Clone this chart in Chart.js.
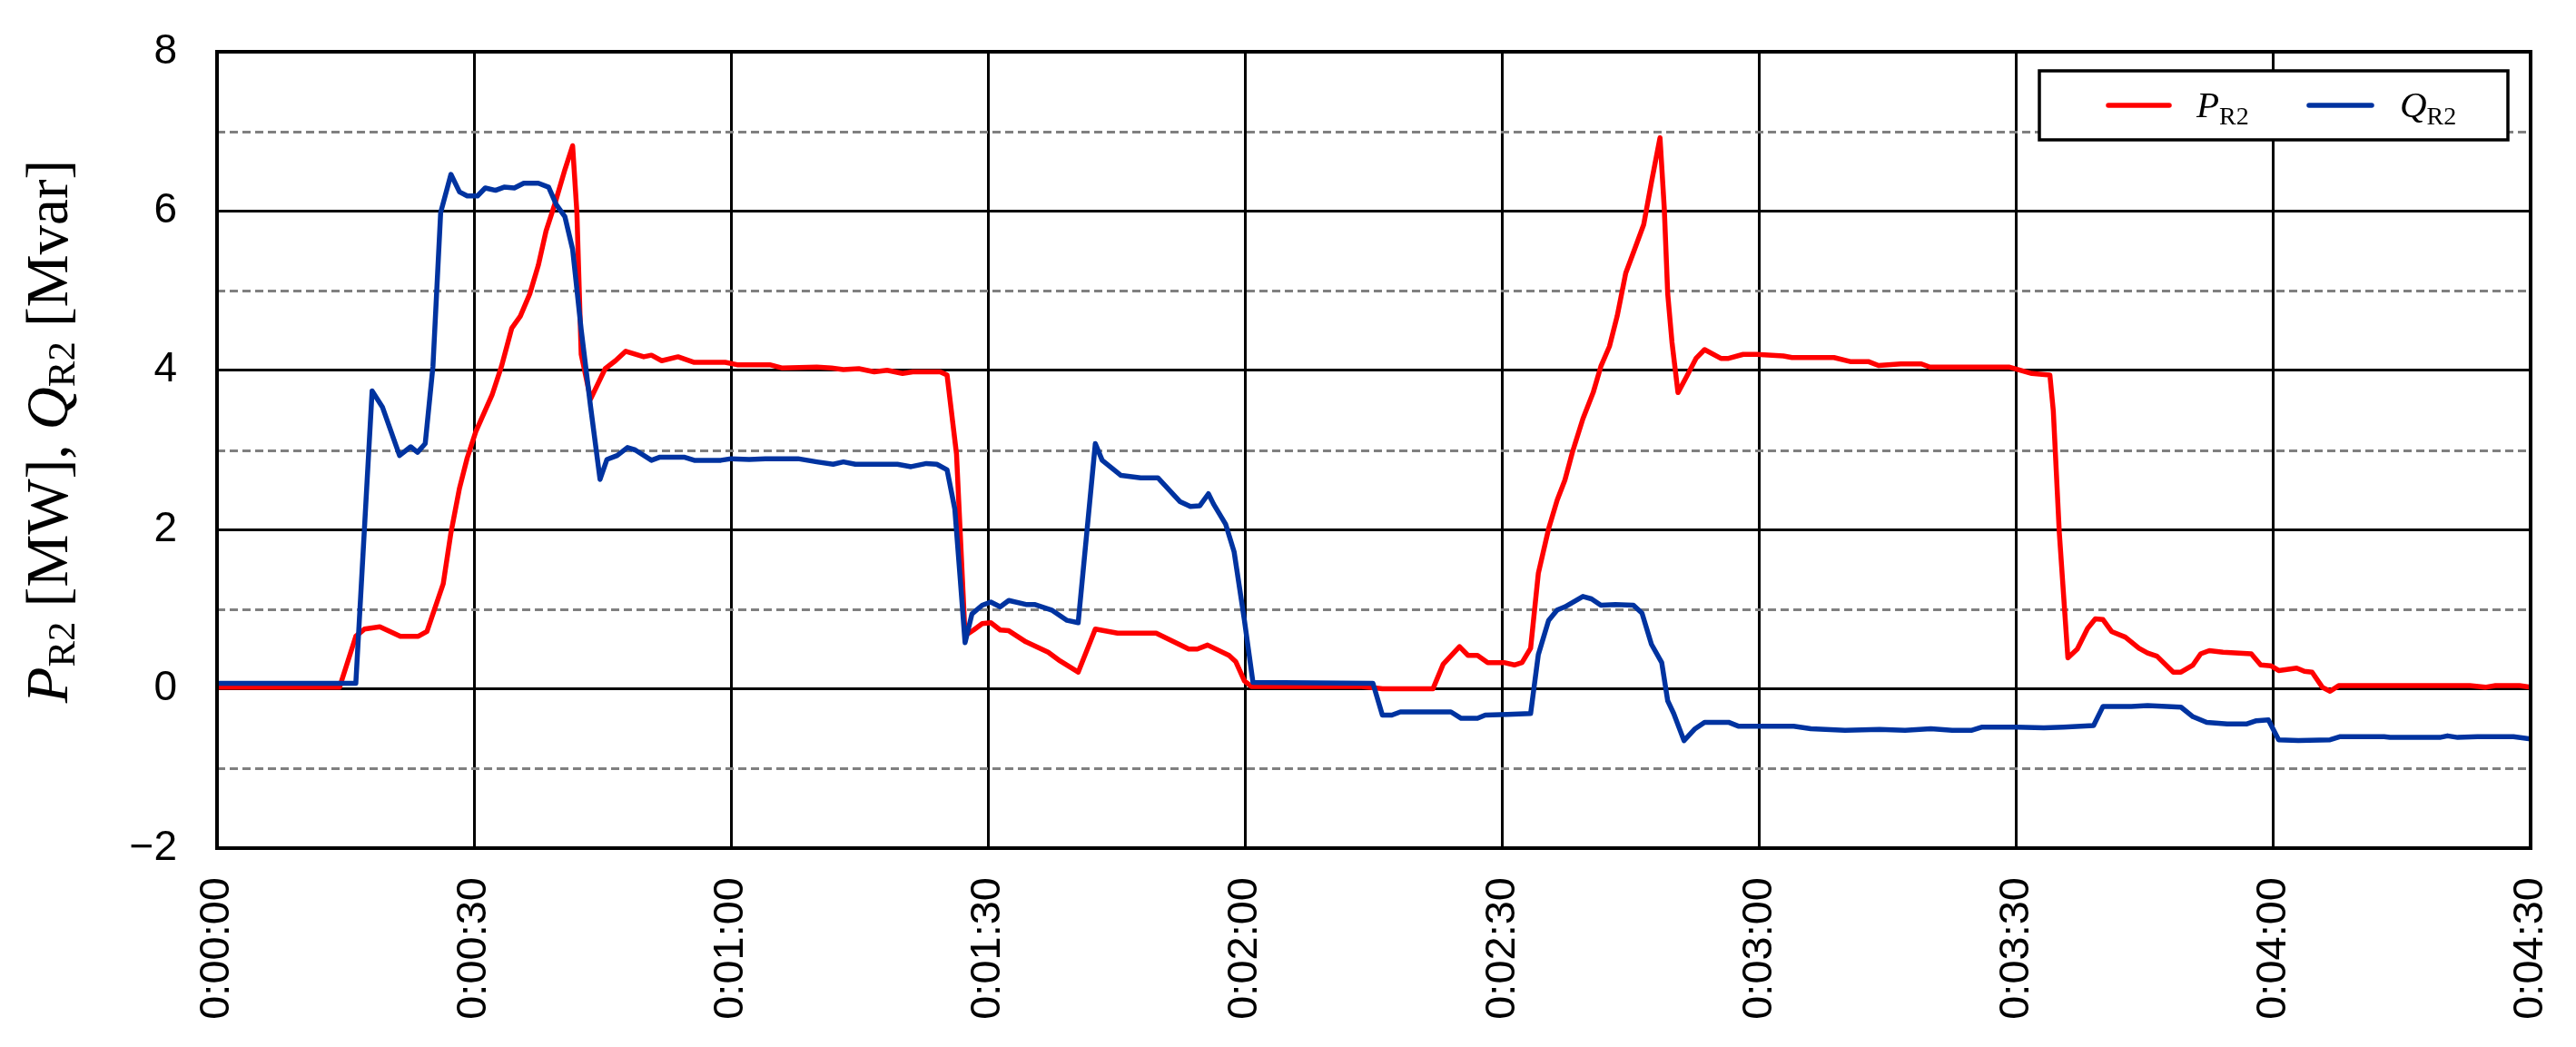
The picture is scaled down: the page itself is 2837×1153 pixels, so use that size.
<!DOCTYPE html>
<html><head><meta charset="utf-8">
<script src="https://cdn.jsdelivr.net/npm/chart.js@4/dist/chart.umd.min.js"></script>
<style>html,body{margin:0;padding:0;background:#fff;}#wrap{width:2837px;height:1153px;}</style>
</head><body><div id="wrap"><canvas id="c" width="2837" height="1153"></canvas></div>
<script>
// ---- data (seconds, MW / Mvar) ----
const pTime = [0,14.3,16.2,17.2,19.0,21.4,23.5,24.5,26.4,27.3,28.3,29.2,30.2,32.1,33.2,34.4,35.4,36.5,37.5,38.4,39.4,40.6,41.5,42.0,42.5,43.6,45.3,46.5,47.7,49.8,50.7,51.9,53.8,55.7,59.3,60.7,64.5,65.9,70.0,71.7,73.1,74.9,76.7,78.2,80.0,81.2,84.4,85.2,86.3,87.3,88.3,89.3,90.3,91.4,92.4,94.4,97.0,98.4,100.5,102.5,105.1,109.6,113.4,114.4,115.6,118.1,118.9,119.9,120.7,133.6,136.0,141.9,143.1,145.0,146.0,147.1,148.3,150.2,151.4,152.3,153.3,154.2,155.4,156.4,157.3,158.2,159.4,160.6,161.5,162.5,163.4,164.4,165.3,166.5,167.4,168.4,168.9,169.3,169.8,170.5,171.5,172.6,173.6,175.5,176.4,178.1,179.7,182.8,183.8,188.7,190.6,192.7,193.9,196.5,198.9,199.9,206.7,209.2,211.8,213.9,214.3,215.0,216.0,217.1,218.3,219.2,220.1,221.1,222.7,224.3,225.3,226.4,228.3,229.2,230.6,231.5,232.5,234.1,237.4,238.5,239.7,240.6,242.7,243.6,244.5,245.7,246.6,247.6,262.9,264.7,265.9,268.7,270];
const pValue = [0.02,0.02,0.66,0.75,0.78,0.66,0.66,0.72,1.32,1.96,2.52,2.90,3.23,3.69,4.05,4.53,4.68,4.96,5.32,5.75,6.08,6.52,6.82,5.98,4.20,3.64,4.02,4.12,4.24,4.17,4.19,4.12,4.17,4.10,4.10,4.07,4.07,4.03,4.04,4.03,4.01,4.02,3.98,4.00,3.96,3.98,3.98,3.94,2.95,0.67,0.74,0.82,0.83,0.74,0.73,0.59,0.46,0.35,0.21,0.75,0.70,0.70,0.50,0.50,0.55,0.42,0.34,0.10,0.03,0.03,0.0,0.0,0.31,0.53,0.42,0.42,0.33,0.33,0.30,0.33,0.51,1.45,2.01,2.37,2.62,2.98,3.39,3.72,4.05,4.30,4.68,5.22,5.48,5.83,6.36,6.92,6.03,4.96,4.35,3.72,3.92,4.15,4.26,4.15,4.15,4.20,4.20,4.18,4.16,4.16,4.11,4.11,4.06,4.08,4.08,4.04,4.04,4.04,3.96,3.94,3.49,1.96,0.39,0.50,0.76,0.88,0.87,0.72,0.65,0.51,0.45,0.41,0.21,0.21,0.30,0.44,0.48,0.46,0.44,0.30,0.29,0.23,0.26,0.22,0.21,0.02,-0.03,0.04,0.04,0.02,0.04,0.04,0.02];
const qTime = [0,16.2,18.1,19.3,21.3,22.6,23.4,24.3,25.2,26.1,27.3,28.3,29.2,30.4,31.3,32.5,33.5,34.7,35.8,37.5,38.7,39.6,40.6,41.5,42.5,43.6,44.7,45.5,46.7,47.9,48.8,50.7,51.7,54.5,55.7,58.8,60.0,62.1,64.0,67.8,70.0,71.9,73.1,74.5,79.4,81.0,82.8,84.0,85.2,86.1,86.7,87.3,88.1,89.3,90.3,91.4,92.4,94.4,95.4,97.4,99.2,100.5,102.5,103.3,105.5,107.8,109.8,112.4,113.6,114.7,115.7,116.3,117.7,118.7,119.9,120.9,134.9,136.0,137.1,138.1,144.0,145.2,147.1,148.0,150.6,153.3,154.2,155.4,156.4,157.3,159.4,160.4,161.5,163.2,165.3,166.3,167.4,168.6,169.3,170.0,171.2,172.5,173.6,176.4,177.6,181,184,186,190,194,197,200,202.5,204.8,206.0,210.0,213.2,215.5,219.0,220.1,223.4,225.3,229.2,230.6,232.2,234.6,236.9,238.0,239.4,240.6,242.9,246.6,247.8,252.9,253.6,259.4,260.3,261.5,263.8,268.0,270];
const qValue = [0.07,0.07,3.74,3.54,2.93,3.04,2.97,3.08,4.05,5.98,6.46,6.24,6.19,6.19,6.29,6.26,6.30,6.29,6.35,6.35,6.30,6.08,5.93,5.52,4.51,3.54,2.63,2.88,2.93,3.03,3.00,2.87,2.91,2.91,2.87,2.87,2.89,2.88,2.89,2.89,2.85,2.82,2.85,2.82,2.82,2.79,2.83,2.82,2.75,2.26,1.43,0.58,0.94,1.05,1.09,1.03,1.11,1.06,1.06,0.99,0.86,0.83,3.08,2.87,2.68,2.65,2.65,2.35,2.29,2.30,2.45,2.32,2.07,1.72,0.86,0.08,0.07,-0.33,-0.33,-0.29,-0.29,-0.37,-0.37,-0.33,-0.32,-0.31,0.43,0.86,0.99,1.03,1.16,1.13,1.05,1.06,1.05,0.95,0.56,0.33,-0.15,-0.31,-0.65,-0.50,-0.42,-0.42,-0.47,-0.47,-0.47,-0.50,-0.52,-0.51,-0.52,-0.50,-0.52,-0.52,-0.48,-0.48,-0.49,-0.48,-0.46,-0.22,-0.22,-0.21,-0.23,-0.35,-0.42,-0.44,-0.44,-0.40,-0.39,-0.64,-0.65,-0.64,-0.60,-0.60,-0.61,-0.61,-0.59,-0.61,-0.60,-0.60,-0.63];
const xTickValues = [0,30,60,90,120,150,180,210,240,270];
const xTickLabels = ['0:00:00','0:00:30','0:01:00','0:01:30','0:02:00','0:02:30','0:03:00','0:03:30','0:04:00','0:04:30'];
const yTickValues = [-2,0,2,4,6,8];
const yTickLabels = ['\u22122','0','2','4','6','8'];
const yMinorValues = [-1,1,3,5,7];

const RED = '#ff0000', BLUE = '#0033a0';
const SERIF = '"Liberation Serif","Times New Roman",serif';
const SANS = '"Liberation Sans",Arial,sans-serif';

function drawRich(ctx, parts, x, y, align) {
  let total = 0;
  parts.forEach(p => { ctx.font = p.font; p.w = ctx.measureText(p.t).width; total += p.w; });
  let cx = align === 'center' ? x - total / 2 : x;
  parts.forEach(p => { ctx.font = p.font; ctx.fillText(p.t, cx, y + (p.dy || 0)); cx += p.w; });
}

const decor = {
  id: 'decor',
  beforeDatasetsDraw(chart) {
    const {ctx, chartArea: a, scales: {y}} = chart;
    ctx.save();
    ctx.strokeStyle = '#808080'; ctx.lineWidth = 3; ctx.setLineDash([9, 5]);
    yMinorValues.forEach(v => {
      const py = Math.round(y.getPixelForValue(v)) + 0.5;
      ctx.beginPath(); ctx.moveTo(a.left, py); ctx.lineTo(a.right, py); ctx.stroke();
    });
    ctx.restore();
  },
  afterDraw(chart) {
    const {ctx, chartArea: a} = chart;
    ctx.save();
    ctx.strokeStyle = '#000'; ctx.lineWidth = 4; ctx.setLineDash([]);
    ctx.strokeRect(a.left, a.top, a.right - a.left, a.bottom - a.top);
    const lx = 2246, ly = 78, lw = 516, lh = 76;
    ctx.fillStyle = '#fff'; ctx.fillRect(lx, ly, lw, lh);
    ctx.lineWidth = 3.5; ctx.strokeRect(lx, ly, lw, lh);
    ctx.lineCap = 'round'; ctx.lineWidth = 5.5;
    ctx.strokeStyle = RED; ctx.beginPath(); ctx.moveTo(2322, 116); ctx.lineTo(2389, 116); ctx.stroke();
    ctx.strokeStyle = BLUE; ctx.beginPath(); ctx.moveTo(2543, 116); ctx.lineTo(2612, 116); ctx.stroke();
    ctx.fillStyle = '#000'; ctx.textBaseline = 'alphabetic'; ctx.textAlign = 'left';
    drawRich(ctx, [{t:'P', font:'italic 41px ' + SERIF}, {t:'R2', font:'28px ' + SERIF, dy: 8}], 2419, 129, 'left');
    drawRich(ctx, [{t:'Q', font:'italic 41px ' + SERIF}, {t:'R2', font:'28px ' + SERIF, dy: 8}], 2643, 129, 'left');
    ctx.translate(74, 475); ctx.rotate(-Math.PI / 2);
    drawRich(ctx, [
      {t:'P', font:'italic 65px ' + SERIF},
      {t:'R2', font:'43px ' + SERIF, dy: 8},
      {t:' [MW], ', font:'65px ' + SERIF},
      {t:'Q', font:'italic 65px ' + SERIF},
      {t:'R2', font:'43px ' + SERIF, dy: 8},
      {t:' [Mvar]', font:'65px ' + SERIF}
    ], 0, 0, 'center');
    ctx.restore();
  }
};

const toPts = (ts, vs) => ts.map((t, i) => ({x: t, y: vs[i]}));
const noPad = s => { s.paddingLeft = 0; s.paddingRight = 0; s.paddingTop = 0; s.paddingBottom = 0; };

new Chart(document.getElementById('c'), {
  type: 'line',
  data: {
    datasets: [
      {label: 'PR2', data: toPts(pTime, pValue), borderColor: RED, borderWidth: 5.5, pointRadius: 0, tension: 0, borderJoinStyle: 'round', order: 2},
      {label: 'QR2', data: toPts(qTime, qValue), borderColor: BLUE, borderWidth: 5.5, pointRadius: 0, tension: 0, borderJoinStyle: 'round', order: 1}
    ]
  },
  options: {
    responsive: false, animation: false, devicePixelRatio: 1,
    layout: {padding: {top: 57, right: 50, left: 0, bottom: 0}},
    plugins: {legend: {display: false}, tooltip: {enabled: false}},
    scales: {
      x: {
        type: 'linear', min: 0, max: 270,
        afterBuildTicks: s => { s.ticks = xTickValues.map(v => ({value: v})); },
        afterFit: s => { s.height = 219; noPad(s); },
        ticks: {
          autoSkip: false, minRotation: 90, maxRotation: 90, padding: 32,
          color: '#000', font: {family: SANS, size: 47},
          callback: (v) => xTickLabels[xTickValues.indexOf(v)]
        },
        grid: {color: '#000', lineWidth: 3, drawTicks: false},
        border: {color: '#000', width: 4}
      },
      y: {
        min: -2, max: 8,
        afterBuildTicks: s => { s.ticks = yTickValues.map(v => ({value: v})); },
        afterFit: s => { s.width = 239; noPad(s); },
        ticks: {
          padding: 44, color: '#000', font: {family: SANS, size: 46},
          callback: (v) => yTickLabels[yTickValues.indexOf(v)]
        },
        grid: {color: '#000', lineWidth: 3, drawTicks: false},
        border: {color: '#000', width: 4}
      }
    }
  },
  plugins: [decor]
});
</script></body></html>
